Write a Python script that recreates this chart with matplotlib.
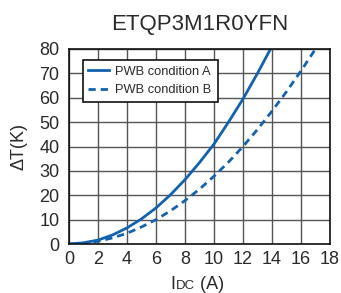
import matplotlib
matplotlib.use('Agg')
import matplotlib.pyplot as plt
import numpy as np

# values
current_a = [0, 1, 2, 3, 4, 5, 6, 7, 8, 9, 10, 11, 12, 13, 13.9]
temp_a = [0, 0.5, 1.6, 3.7, 6.6, 10.3, 14.8, 20.2, 26.4, 33.4, 41, 50, 59.5, 70, 80]
current_b = [0, 1, 2, 3, 4, 5, 6, 7, 8, 9, 10, 11, 12, 13, 14, 15, 16, 17]
temp_b = [0, 0.3, 1.1, 2.5, 4.4, 7.0, 10.0, 13.6, 17.8, 22.5, 27.8, 33.6, 40, 47, 54.5, 62.5, 71, 80]

x_ticks = list(range(0, 19, 2))
y_ticks = list(range(0, 81, 10))

blue = '#1262b0'
txt = '#2a2a2a'

plt.rcParams['font.family'] = ['Liberation Sans', 'DejaVu Sans']

fig = plt.figure(figsize=(3.41, 2.93), dpi=100)
ax = fig.add_axes([0.2023, 0.1672, 0.7654, 0.6656])

ax.plot(current_a, temp_a, color=blue, lw=2.0, label='PWB condition A')
ax.plot(current_b, temp_b, color=blue, lw=2.0, ls=(0, (2.6, 1.8)), label='PWB condition B')

ax.set_xlim(0, 18)
ax.set_ylim(0, 80)
ax.set_xticks(x_ticks)
ax.set_yticks(y_ticks)
ax.grid(True, color='#555555', lw=1.0)
ax.set_axisbelow(True)
ax.tick_params(length=0, labelsize=13, colors=txt)
ax.tick_params(axis='y', pad=7)
ax.tick_params(axis='x', pad=5)
for s in ax.spines.values():
    s.set_color('#111111')
    s.set_linewidth(1.2)

ax.set_title('ETQP3M1R0YFN', fontsize=16, color=txt, pad=14)
ax.set_ylabel('ΔT(K)', fontsize=13, color=txt, labelpad=8)

# x label: "I" + small "DC" + " (A)"
fig.text(0.514, 0.015, 'I', fontsize=13, color=txt, ha='right', va='baseline')
t1 = fig.text(0.517, 0.015, 'DC', fontsize=9.5, color=txt, ha='left', va='baseline')
fig.canvas.draw()
bb = t1.get_window_extent()
x_end = bb.x1 / fig.bbox.width
fig.text(x_end, 0.015, ' (A)', fontsize=13, color=txt, ha='left', va='baseline')

leg = ax.legend(loc='upper left', bbox_to_anchor=(0.052, 0.945), fontsize=9.3,
                frameon=True, fancybox=False, framealpha=1, edgecolor='#111111',
                handlelength=1.6, handletextpad=0.5, borderpad=0.45, labelspacing=0.5,
                borderaxespad=0)
leg.get_frame().set_linewidth(1.2)
for t in leg.get_texts():
    t.set_color(txt)

fig.savefig('out.png', dpi=100)
